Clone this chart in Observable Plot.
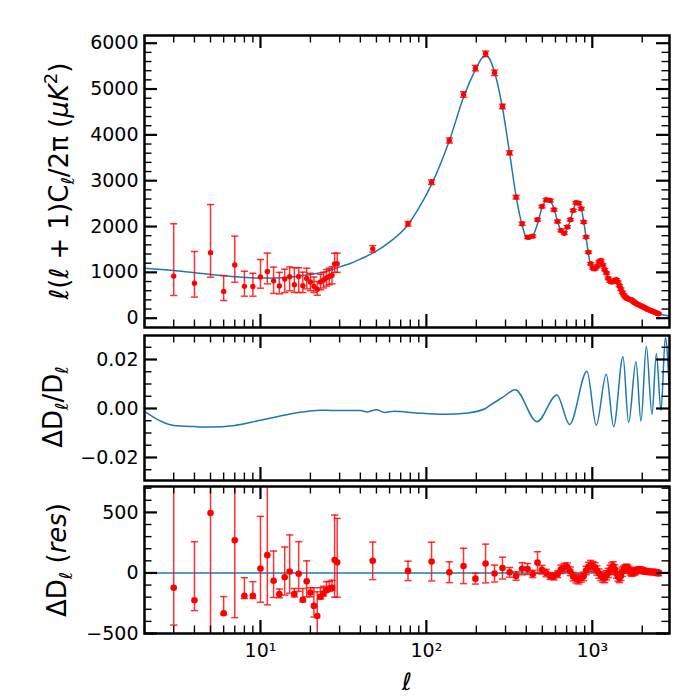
<!DOCTYPE html>
<html><head><meta charset="utf-8">
<script src="https://cdn.jsdelivr.net/npm/d3@7"></script>
<script src="https://cdn.jsdelivr.net/npm/@observablehq/plot@0.6"></script>
<style>
body{margin:0;background:#fff;}
#wrap{position:relative;width:700px;height:700px;font-family:"DejaVu Sans";}
#wrap svg{position:absolute;left:0;overflow:visible;}
</style></head><body><div id="wrap"></div>
<script>
// ---------- data ----------
const lowEll = [3,4,5,6,7,8,9,10,11,12,13,14,15,16,17,18,19,20,21,22,23,24,25,26,27,28,29];
const lowD   = [918,765,1430,585,1160,695,690,900,1020,815,703,855,905,730,910,710,865,790,695,630,790,835,880,910,935,1185,1190];
const lowDlo = [495,460,895,385,785,480,480,655,750,540,530,560,597,560,560,560,640,600,560,500,620,660,700,730,750,1000,1000];
const lowDhi = [2060,1455,2480,930,1790,1025,980,1280,1420,1115,1000,1070,1118,1100,1100,1004,1090,980,900,800,960,1000,1060,1090,1120,1418,1418];
const lowRes   = [-122,-225,495,-333,270,-188,-188,36,147,-64,-175,-36,11,-175,-6,-222,-69,-161,-272,-355,-197,-170,-142,-128,-122,106,89];
const lowResLo = [-430,-311,-1000,-345,-369,-211,-211,-242,-263,-203,-205,-183,-167,-197,-153,-239,-197,-197,-364,-517,-215,-190,-156,-150,-145,-200,-200];
const lowResHi = [1000,258,1500,-195,1000,-39,-72,467,750,181,-133,214,314,-128,258,-128,100,-122,-122,-156,-122,-110,-72,-70,-60,478,450];

const binEll = [47.5,77.5,107.5,137.5,167.5,197.5,227.5,257.5,287.5,317.5,
  347.5,377.5,407.5,437.5,467.5,497.5,527.5,557.5,587.5,617.5,
  647.5,677.5,707.5,737.5,767.5,797.5,827.5,857.5,887.5,917.5,
  947.5,977.5,1007.5,1037.5,1067.5,1097.5,1127.5,1157.5,1187.5,1217.5,
  1247.5,1277.5,1307.5,1337.5,1367.5,1397.5,1427.5,1457.5,1487.5,1517.5,
  1547.5,1577.5,1607.5,1637.5,1667.5,1697.5,1727.5,1757.5,1787.5,1817.5,
  1847.5,1877.5,1907.5,1937.5,1967.5,1997.5,2027.5,2057.5,2087.5,2117.5,
  2147.5,2177.5,2207.5,2237.5,2267.5,2297.5,2327.5,2357.5,2387.5,2417.5,
  2447.5,2477.5,2507.5];
const binD = [1513,2060,2968,3877,4881,5456,5769,5354,4619,3608,
  2641,2060,1768,1790,2148,2437,2583,2568,2365,2110,
  1914,1855,1990,2150,2350,2520,2510,2390,2100,1770,
  1440,1190,1090,1080,1130,1230,1260,1160,1060,985,
  870,810,790,800,830,838,790,710,635,560,
  510,470,440,422,415,408,398,372,349,330,
  315,302,292,280,268,257,245,232,220,208,
  198,188,178,170,162,153,145,137,130,120,
  112,104,96];
const binDerr = [70,50,50,55,60,60,60,60,50,45,
  40,35,30,30,30,30,30,30,30,30,
  28,28,28,28,28,28,28,28,28,28,
  25,25,25,25,25,25,25,25,25,25,
  25,25,25,25,25,25,25,25,25,25,
  22,22,22,22,22,22,22,22,22,22,
  20,20,20,20,20,20,20,20,20,20,
  18,18,18,18,18,18,18,18,18,18,
  18,18,18];
const binRes = [100,17,94,6,58,-47,78,-5,40,5,
  -25,35,33,-8,85,27,0,-25,-30,-10,
  30,45,48,14,-30,-48,-56,-42,-28,20,
  50,66,55,47,20,-5,-25,-40,-42,-20,
  0,25,45,55,30,-5,-30,-42,-25,10,
  30,40,45,38,25,10,0,5,12,14,
  18,24,28,28,25,22,18,15,14,12,
  10,9,8,8,8,8,8,8,8,6,
  4,0,-3];
const binResErr = [155,80,160,86,146,45,160,70,90,40,
  35,50,45,30,90,35,30,28,28,28,
  35,35,35,35,35,35,35,35,35,35,
  38,38,38,38,38,38,38,38,38,38,
  38,38,38,38,38,38,38,38,38,38,
  28,28,28,28,28,28,28,28,28,28,
  22,22,22,22,22,22,22,22,22,22,
  20,20,20,20,20,20,20,20,20,20,
  20,20,20];

// theory curve (D_ell)
const modelEll = [2,3,4,5,6,7,8,10,12,15,18,20,24,28,30,35,40,47.5,60,77.5,90,107.5,137.5,167.5,197.5,220,230,240,257.5,287.5,317.5,347.5,377.5,400,415,435,467.5,497.5,530,545,557.5,587.5,617.5,647.5,665,680,707.5,737.5,767.5,800,815,830,857.5,887.5,917.5,947.5,977.5,1007.5,1030,1067.5,1100,1125,1157.5,1187.5,1217.5,1247.5,1277.5,1300,1340,1400,1420,1457.5,1487.5,1517.5,1547.5,1580,1620,1680,1720,1760,1800,1850,1900,2000,2100,2200,2300,2400,2500,2600,2750,2920];
const modelD   = [1090,1040,990,955,928,905,890,875,875,893,930,955,1005,1080,1120,1200,1290,1420,1660,2040,2400,2920,3870,4820,5420,5700,5715,5660,5370,4590,3600,2660,2030,1760,1720,1770,2060,2410,2580,2590,2570,2390,2115,1900,1860,1870,1960,2140,2360,2530,2545,2520,2410,2110,1760,1410,1140,1040,1040,1120,1230,1260,1200,1090,990,875,800,780,790,835,830,740,650,560,500,460,435,420,405,380,345,315,295,255,215,178,150,125,98,80,63,50];

// fractional difference ΔD/D
const fracEll = [2,3,4,5,7,10,12,14,16,19,23,27,33,40,44,50,56,64,87,128,178,227,243,288,343,464,612,730,929,1057,1214,1345,1531,1656,1834,1966,2117,2291,2432,2596,2756,2920];
const fracVal = [-0.0012,-0.0069,-0.0074,-0.0076,-0.0069,-0.0048,-0.0037,-0.0027,-0.0019,-0.0012,-0.0007,-0.0008,-0.0008,-0.0008,-0.0014,-0.0005,-0.0016,-0.0011,-0.0018,-0.0024,-0.0018,0,0.0014,0.0045,0.0077,-0.0054,0.0055,-0.0065,0.0152,-0.0068,0.014,-0.0074,0.0211,-0.0057,0.0191,-0.0052,0.0254,-0.0024,0.0225,-0.0008,0.029,0.006];

// ticks
const xMajor = [10,100,1000];
const xTickLabels = ["10¹","10²","10³"];
const xMinor = [2,3,4,5,6,7,8,9,20,30,40,50,60,70,80,90,200,300,400,500,600,700,800,900,2000];
const yMajTop = [0,1000,2000,3000,4000,5000,6000];
const yMinTop = [200,400,600,800,1200,1400,1600,1800,2200,2400,2600,2800,3200,3400,3600,3800,4200,4400,4600,4800,5200,5400,5600,5800];
const yMajMid = [-0.02,0,0.02];
const yMinMid = [-0.025,-0.015,-0.01,-0.005,0.005,0.01,0.015,0.025];
const yMajBot = [-500,0,500];
const yMinBot = [-400,-300,-200,-100,100,200,300,400,600,700];

// ---------- build tables ----------
const points = [
  ...lowEll.map((l,i)=>({l, D: lowD[i], lo: lowDlo[i], hi: lowDhi[i], r: lowRes[i], rlo: lowResLo[i], rhi: lowResHi[i]})),
  ...binEll.map((l,i)=>({l, D: binD[i], lo: binD[i]-binDerr[i], hi: binD[i]+binDerr[i], r: binRes[i], rlo: binRes[i]-binResErr[i], rhi: binRes[i]+binResErr[i]}))
];
const model = modelEll.map((l,i)=>({l, D: modelD[i]}));
const frac = fracEll.map((l,i)=>({l, v: fracVal[i]}));
const xLabelMap = new Map(xMajor.map((v,i)=>[v, xTickLabels[i]]));

const RED = "#ff0000", BLUE = "#1f77b4";
const W = 700, ML = 144, MR = 31, innerW = W - ML - MR;
const MAJ = 13, MIN = 7.5;
const capSymbol = {draw(ctx, size){ const w = Math.sqrt(size/Math.PI); ctx.moveTo(-w,0); ctx.lineTo(w,0); }};
const xScale = {type: "log", domain: [2, 2920], axis: null};
const style = {fontFamily: "DejaVu Sans", fontSize: "19px", overflow: "visible", background: "transparent"};

function tickMarks(innerH, yMaj, yMin){
  const a = {stroke: "black", strokeWidth: 2.2}, b = {stroke: "black", strokeWidth: 1.4};
  return [
    Plot.tickX(xMajor, {x: d=>d, insetTop: innerH-MAJ, ...a}),
    Plot.tickX(xMajor, {x: d=>d, insetBottom: innerH-MAJ, ...a}),
    Plot.tickX(xMinor, {x: d=>d, insetTop: innerH-MIN, ...b}),
    Plot.tickX(xMinor, {x: d=>d, insetBottom: innerH-MIN, ...b}),
    Plot.tickY(yMaj, {y: d=>d, insetRight: innerW-MAJ, ...a}),
    Plot.tickY(yMaj, {y: d=>d, insetLeft: innerW-MAJ, ...a}),
    Plot.tickY(yMin, {y: d=>d, insetRight: innerW-MIN, ...b}),
    Plot.tickY(yMin, {y: d=>d, insetLeft: innerW-MIN, ...b}),
    Plot.frame({stroke: "black", strokeWidth: 2.5})
  ];
}

function errMarks(yk, lok, hik, r, clip){
  return [
    Plot.ruleX(points, {x: "l", y1: lok, y2: hik, stroke: RED, strokeOpacity: 0.8, strokeWidth: 1.5, clip}),
    Plot.dot(points, {x: "l", y: lok, symbol: capSymbol, r: 3.6, stroke: RED, strokeOpacity: 0.8, strokeWidth: 1.5, fill: "none", clip}),
    Plot.dot(points, {x: "l", y: hik, symbol: capSymbol, r: 3.6, stroke: RED, strokeOpacity: 0.8, strokeWidth: 1.5, fill: "none", clip}),
    Plot.dot(points, {x: "l", y: yk, r, fill: RED, stroke: "none", clip})
  ];
}

// ---------- panel 1 ----------
const H1 = 330, MT1 = 35, MB1 = 3;
const p1 = Plot.plot({
  width: W, height: H1, marginLeft: ML, marginRight: MR, marginTop: MT1, marginBottom: MB1,
  style, x: xScale, y: {domain: [-203, 6168], axis: null},
  marks: [
    Plot.line(model, {x: "l", y: "D", stroke: BLUE, strokeWidth: 1.5, curve: "monotone-x"}),
    ...errMarks("D", "lo", "hi", 2.7, false),
    Plot.axisY(yMajTop, {anchor: "left", tickSize: 0, tickPadding: 6, tickFormat: d3.format("d"), fontSize: 19, label: null}),
    ...tickMarks(H1-MT1-MB1, yMajTop, yMinTop)
  ]
});
p1.style.top = "0px";

// ---------- panel 2 ----------
const H2 = 150, MT2 = 5, MB2 = 0;
const p2 = Plot.plot({
  width: W, height: H2, marginLeft: ML, marginRight: MR, marginTop: MT2, marginBottom: MB2,
  style, x: xScale, y: {domain: [-0.0294, 0.0298], axis: null},
  marks: [
    Plot.line(frac, {x: "l", y: "v", stroke: BLUE, strokeWidth: 1.5, curve: "monotone-x", clip: true}),
    Plot.axisY(yMajMid, {anchor: "left", tickSize: 0, tickPadding: 6, tickFormat: d3.format(".2f"), fontSize: 19, label: null}),
    ...tickMarks(H2-MT2-MB2, yMajMid, yMinMid)
  ]
});
p2.style.top = "330px";

// ---------- panel 3 ----------
const H3 = 218, MT3 = 4, MB3 = 67;
const p3 = Plot.plot({
  width: W, height: H3, marginLeft: ML, marginRight: MR, marginTop: MT3, marginBottom: MB3,
  style, x: xScale, y: {domain: [-500, 714], axis: null},
  marks: [
    Plot.ruleY([0], {stroke: BLUE, strokeWidth: 1.5}),
    ...errMarks("r", "rlo", "rhi", 3.3, true),
    Plot.axisY(yMajBot, {anchor: "left", tickSize: 0, tickPadding: 6, tickFormat: d3.format("d"), fontSize: 19, label: null}),
    Plot.axisX(xMajor, {anchor: "bottom", tickSize: 0, tickPadding: 10, tickFormat: d => xLabelMap.get(d), fontSize: 19, label: null}),
    ...tickMarks(H3-MT3-MB3, yMajBot, yMinBot)
  ]
});
p3.style.top = "482px";

const wrap = document.getElementById("wrap");
wrap.append(p1, p2, p3);

// ---------- axis titles ----------
const sub = (t) => `<tspan font-size="18" font-style="italic" dy="6">${t}</tspan>`;
wrap.insertAdjacentHTML("beforeend", `
<svg width="700" height="700" style="top:0;pointer-events:none" font-family="DejaVu Sans" fill="black">
  <text transform="translate(68,181) rotate(-90)" text-anchor="middle" font-size="26" style="white-space:pre"><tspan font-style="italic">ℓ</tspan>(<tspan font-style="italic">ℓ</tspan> + 1)C${sub("ℓ")}<tspan dy="-6">/2π (</tspan><tspan font-style="italic">μK</tspan><tspan font-size="18" dy="-11">2</tspan><tspan dy="11">)</tspan></text>
  <text transform="translate(62,407) rotate(-90)" text-anchor="middle" font-size="26" style="white-space:pre">ΔD${sub("ℓ")}<tspan dy="-6">/D</tspan>${sub("ℓ")}</text>
  <text transform="translate(66,560) rotate(-90)" text-anchor="middle" font-size="26" style="white-space:pre">ΔD${sub("ℓ")}<tspan dy="-6"> (</tspan><tspan font-style="italic">res</tspan>)</text>
  <text x="407" y="690" text-anchor="middle" font-size="24" font-style="italic">ℓ</text>
</svg>`);
</script></body></html>
